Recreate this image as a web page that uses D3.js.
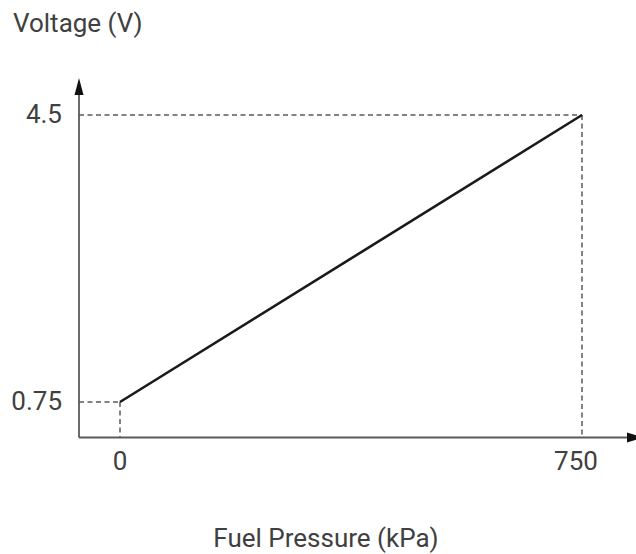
<!DOCTYPE html>
<html><head><meta charset="utf-8">
<script src="https://cdn.jsdelivr.net/npm/d3@7"></script>
<style>body{margin:0;background:#fff;} text{font-family:Roboto, "Liberation Sans", Arial, sans-serif;}</style>
</head><body>
<svg id="c" width="636" height="554"></svg>
<script>
const pressure = [0, 750];
const voltage = [0.75, 4.5];
const xTicks = [0, 750];
const yTicks = [0.75, 4.5];
const xLabel = "Fuel Pressure (kPa)";
const yLabel = "Voltage (V)";

const svg = d3.select("#c");
const x = d3.scaleLinear().domain([0, 750]).range([120, 582]);
const y = d3.scaleLinear().domain([0.75, 4.5]).range([402, 115]);
const axisX = 79, axisY = 437.5;
const gray = "#5a5a5a", txt = "#404040";
const fs = 26;

// dashed guides
yTicks.forEach((v, i) => {
  const px = x(pressure[i]);
  svg.append("line").attr("x1", axisX).attr("x2", px).attr("y1", y(v)).attr("y2", y(v))
    .attr("stroke", gray).attr("stroke-width", 1.5).attr("stroke-dasharray", "5,3.5");
  svg.append("line").attr("x1", px).attr("x2", px).attr("y1", y(v)).attr("y2", axisY)
    .attr("stroke", gray).attr("stroke-width", 1.5).attr("stroke-dasharray", "5,3.5");
});

// axes
svg.append("line").attr("x1", axisX).attr("x2", axisX).attr("y1", axisY).attr("y2", 90)
  .attr("stroke", gray).attr("stroke-width", 1.8);
svg.append("path").attr("d", `M${axisX},78 L${axisX-4.5},95 L${axisX+4.5},95 Z`).attr("fill", "#111");
svg.append("line").attr("x1", axisX).attr("x2", 630).attr("y1", axisY).attr("y2", axisY)
  .attr("stroke", gray).attr("stroke-width", 1.8);
svg.append("path").attr("d", `M643,${axisY} L627,${axisY-5} L627,${axisY+5} Z`).attr("fill", "#111");

// data line
const line = d3.line().x((d, i) => x(pressure[i])).y(d => y(d));
svg.append("path").datum(voltage).attr("d", line).attr("fill", "none")
  .attr("stroke", "#1a1a1a").attr("stroke-width", 2.6);

// tick labels
yTicks.forEach(v => {
  svg.append("text").attr("x", 62).attr("y", y(v) - 1).attr("dy", "0.36em").attr("text-anchor", "end")
    .attr("font-size", fs).attr("fill", txt).text(v);
});
xTicks.forEach((v, i) => {
  svg.append("text").attr("x", x(v) - (i === xTicks.length - 1 ? 6 : 0)).attr("y", 470).attr("text-anchor", "middle")
    .attr("font-size", fs).attr("fill", txt).text(v);
});

svg.append("text").attr("x", 13).attr("y", 32).attr("font-size", fs).attr("fill", txt).text(yLabel);
svg.append("text").attr("x", 326).attr("y", 547).attr("text-anchor", "middle")
  .attr("font-size", fs).attr("fill", txt).text(xLabel);
</script>
</body></html>
